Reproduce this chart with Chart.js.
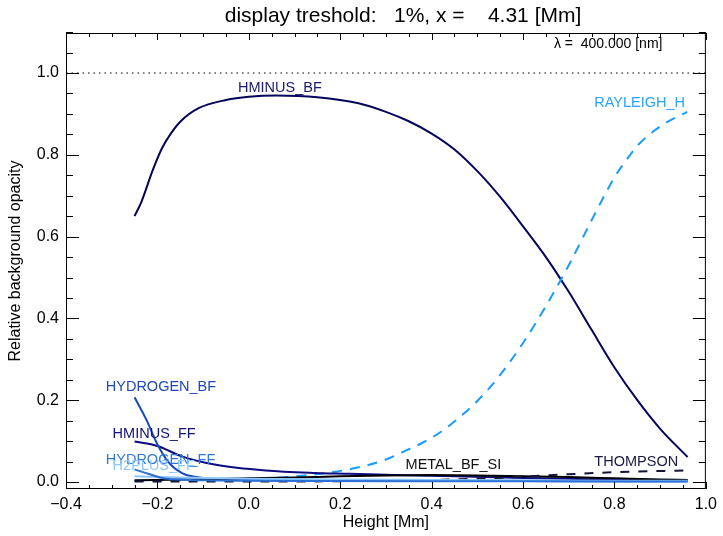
<!DOCTYPE html>
<html><head><meta charset="utf-8">
<script src="https://cdn.jsdelivr.net/npm/chart.js@4.4.1/dist/chart.umd.min.js"></script>
<style>html,body{margin:0;padding:0;background:#fff}#wrap{width:723px;height:536px}</style>
</head><body><div id="wrap"><canvas id="c" width="723" height="536"></canvas></div>
<script>
// ---- data ----
const heights = [-0.25,-0.235,-0.21,-0.19,-0.17,-0.15,-0.11,-0.05,0,0.06,0.15,0.24,0.3,0.35,0.4,0.45,0.5,0.55,0.6,0.65,0.7,0.75,0.8,0.85,0.9,0.96];
const hminusBF = [0.65,0.685,0.763,0.816,0.853,0.881,0.914,0.934,0.942,0.945,0.941,0.926,0.905,0.882,0.852,0.813,0.76,0.697,0.625,0.55,0.465,0.372,0.28,0.2,0.13,0.061];

const ray_x = [-0.25,-0.1,0,0.07,0.13,0.175,0.233,0.3,0.342,0.38,0.414,0.45,0.5,0.55,0.6,0.65,0.7,0.75,0.8,0.828,0.85,0.886,0.915,0.959];
const ray_y = [0.003,0.005,0.008,0.011,0.017,0.023,0.034,0.055,0.076,0.096,0.118,0.148,0.198,0.262,0.34,0.43,0.53,0.64,0.745,0.79,0.822,0.858,0.88,0.905];

const hydBF_x = [-0.25,-0.224,-0.199,-0.174,-0.145,-0.108,-0.05,0.1,0.3,0.5,0.7,0.96];
const hydBF_y = [0.207,0.152,0.09,0.046,0.021,0.011,0.006,0.004,0.003,0.003,0.002,0.002];

const hmFF_x = [-0.25,-0.2,-0.145,-0.072,0.037,0.146,0.22,0.32,0.45,0.6,0.75,0.9,0.96];
const hmFF_y = [0.099,0.088,0.062,0.042,0.028,0.022,0.02,0.017,0.014,0.01,0.007,0.005,0.004];

const hydFF_x = [-0.25,-0.22,-0.19,-0.15,-0.1,0,0.3,0.6,0.96];
const hydFF_y = [0.031,0.02,0.01,0.006,0.004,0.003,0.002,0.002,0.001];

const h2pFF_x = [-0.25,-0.15,0,0.2,0.4,0.6,0.8,0.96];
const h2pFF_y = [0.014,0.011,0.008,0.006,0.005,0.004,0.003,0.003];

const metal_x = [-0.25,-0.1,0,0.1,0.2,0.3,0.4,0.5,0.6,0.7,0.8,0.9,0.96];
const metal_y = [0.004,0.007,0.009,0.011,0.014,0.016,0.017,0.016,0.014,0.012,0.009,0.006,0.005];

const thomp_x = [-0.25,0,0.2,0.4,0.5,0.6,0.7,0.8,0.9,0.96];
const thomp_y = [0.001,0.001,0.002,0.005,0.008,0.013,0.019,0.024,0.027,0.028];

const ref_x = [-0.4, 1.0];
const ref_y = [1.0, 1.0];

const xTicks = [-0.4,-0.2,0.0,0.2,0.4,0.6,0.8,1.0];
const yTicks = [0.0,0.2,0.4,0.6,0.8,1.0];

const labelNames = ['HMINUS_BF','RAYLEIGH_H','HYDROGEN_BF','HMINUS_FF','HYDROGEN_FF','H2PLUS_FF','METAL_BF_SI','THOMPSON'];
// ---- end data ----

const labelPos = [
  {x:0.068, y:0.963, align:'center', color:'#1a1a70'},
  {x:0.855, y:0.927, align:'center', color:'#2aa4ff'},
  {x:-0.313, y:0.232, align:'left', color:'#1f48b8'},
  {x:-0.298, y:0.117, align:'left', color:'#12127a'},
  {x:-0.313, y:0.054, align:'left', color:'#2f78d8'},
  {x:-0.298, y:0.038, align:'left', color:'#8cc8ff'},
  {x:0.343, y:0.041, align:'left', color:'#111111'},
  {x:0.756, y:0.048, align:'left', color:'#1a1a40'}
];

function pts(xs, ys){ return xs.map((x,i)=>({x:x, y:ys[i]})); }
const FONT = "'Liberation Sans', Arial, Helvetica, sans-serif";

function mk(label, xs, ys, color, dash, width){
  return {label, data: pts(xs,ys), borderColor: color, borderWidth: width||2, borderDash: dash||[],
    pointRadius:0, fill:false, cubicInterpolationMode:'monotone', tension:0.4};
}

const datasets = [
  {label:'ref', data: pts(ref_x, ref_y), borderColor:'#000', borderWidth:1.2, borderDash:[1.5,4], pointRadius:0, fill:false},
  mk('HYDROGEN_FF', hydFF_x, hydFF_y, '#2a70d6'),
  mk('H2PLUS_FF', h2pFF_x, h2pFF_y, '#8cc8ff'),
  mk('THOMPSON', thomp_x, thomp_y, '#141438', [9,9]),
  mk('METAL_BF_SI', metal_x, metal_y, '#000000'),
  mk('HYDROGEN_BF', hydBF_x, hydBF_y, '#1a48c0'),
  mk('HMINUS_FF', hmFF_x, hmFF_y, '#0c0c80'),
  mk('RAYLEIGH_H', ray_x, ray_y, '#1a9cff', [10,8]),
  mk('HMINUS_BF', heights, hminusBF, '#04045a')
];

const framePlugin = {
  id:'frame',
  afterDatasetsDraw(chart){
    const {ctx, chartArea:a, scales:{x, y}} = chart;
    ctx.save();
    ctx.strokeStyle = '#000'; ctx.lineWidth = 1;
    ctx.strokeRect(a.left+0.5, a.top+0.5, a.right-a.left-1, a.bottom-a.top-1);
    ctx.beginPath();
    for (let k=0;k<=28;k++){
      const v = -0.4 + k*0.05;
      const p = Math.round(x.getPixelForValue(v))+0.5;
      const len = (k%4===0)?7:4;
      ctx.moveTo(p, a.bottom); ctx.lineTo(p, a.bottom-len);
      ctx.moveTo(p, a.top); ctx.lineTo(p, a.top+len);
    }
    for (let k=0;k<=22;k++){
      const v = k*0.05;
      const p = Math.round(y.getPixelForValue(v))+0.5;
      const len = (k%4===0)?13:7;
      ctx.moveTo(a.left, p); ctx.lineTo(a.left+len, p);
      ctx.moveTo(a.right, p); ctx.lineTo(a.right-len, p);
    }
    ctx.stroke();
    ctx.font = '14.5px ' + FONT;
    ctx.textBaseline = 'middle';
    labelNames.forEach((n,i)=>{
      const L = labelPos[i];
      ctx.fillStyle = L.color; ctx.textAlign = L.align;
      ctx.fillText(n, x.getPixelForValue(L.x), y.getPixelForValue(L.y));
    });
    ctx.fillStyle = '#000'; ctx.textAlign='right';
    ctx.font = '14px ' + FONT;
    ctx.fillText('\u03bb =  400.000 [nm]', x.getPixelForValue(0.905), y.getPixelForValue(1.071));
    ctx.font = '21px ' + FONT; ctx.textAlign='center'; ctx.textBaseline='middle';
    ctx.fillText('display treshold:   1%, x =    4.31 [Mm]', 403, 16);
    ctx.restore();
  }
};

new Chart(document.getElementById('c'), {
  type:'line',
  data:{datasets},
  plugins:[framePlugin],
  options:{
    responsive:false, animation:false, devicePixelRatio:1,
    layout:{padding:{top:33,right:14,left:0,bottom:0}},
    plugins:{legend:{display:false}, tooltip:{enabled:false}, title:{display:false}},
    scales:{
      x:{type:'linear', min:-0.4, max:1.0,
        afterFit(s){ s.height = 47; },
        afterBuildTicks(s){ s.ticks = xTicks.map(v=>({value:v})); },
        grid:{display:false, drawTicks:false}, border:{display:false},
        ticks:{padding:6, color:'#000', font:{family:FONT, size:16}, maxRotation:0, autoSkip:false,
          callback(v){ if (Math.abs(v)<1e-9) v=0; return (v<0?'\u2212':'') + Math.abs(v).toFixed(1); }},
        title:{display:true, text:'Height [Mm]', color:'#000', font:{family:FONT, size:16}, padding:{top:0,bottom:4}}
      },
      y:{type:'linear', min:-0.0171, max:1.0978,
        afterFit(s){ s.width = 66; },
        afterBuildTicks(s){ s.ticks = yTicks.map(v=>({value:v})); },
        grid:{display:false, drawTicks:false}, border:{display:false},
        ticks:{padding:7, color:'#000', font:{family:FONT, size:16}, autoSkip:false,
          callback(v){ return Math.abs(v).toFixed(1); }},
        title:{display:true, text:'Relative background opacity', color:'#000', font:{family:FONT, size:16}, padding:{top:6,bottom:0}}
      }
    }
  }
});
</script></body></html>
